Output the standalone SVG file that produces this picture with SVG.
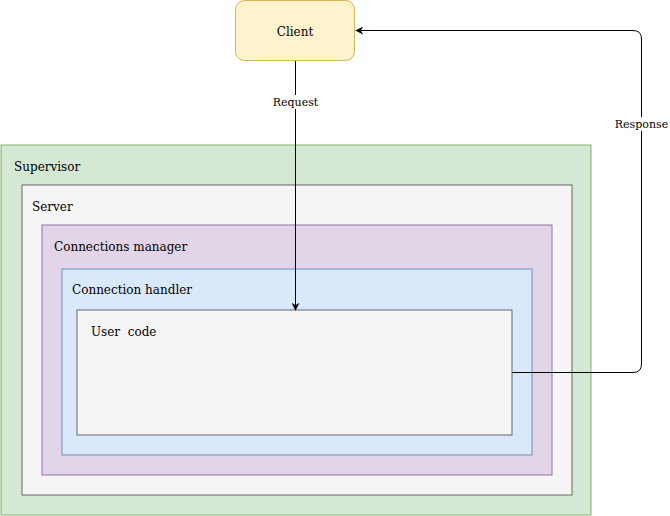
<svg xmlns="http://www.w3.org/2000/svg" width="670" height="516" viewBox="0 0 670 516">
<defs>
<marker id="arr" viewBox="0 0 10 10" refX="9" refY="5" markerWidth="8" markerHeight="8" markerUnits="userSpaceOnUse" orient="auto">
<path d="M0,0 L10,5 L0,10 L3,5 Z" fill="#000"/>
</marker>
<style>
text{font-family:"DejaVu Serif","Liberation Serif",serif;font-size:12px;fill:#000}
.lbl{font-size:11px}
.edge{fill:none;stroke:#000;stroke-width:1}
</style>
</defs>
<rect width="670" height="516" fill="#fff"/>
<g id="supervisor"><rect x="1" y="145" width="590" height="370" fill="#d5e8d4" stroke="#82b366"/><text x="14" y="171">Supervisor</text></g>
<g id="server"><rect x="22" y="185" width="550" height="310" fill="#f5f5f5" stroke="#666666"/><text x="32" y="211">Server</text></g>
<g id="connections-manager"><rect x="42" y="225" width="510" height="250" fill="#e1d5e7" stroke="#9673a6"/><text x="54" y="251">Connections manager</text></g>
<g id="connection-handler"><rect x="62" y="269" width="470" height="186" fill="#dae8fc" stroke="#6c8ebf"/><text x="72" y="294">Connection handler</text></g>
<g id="user-code"><rect x="77" y="310" width="435" height="125" fill="#f5f5f5" stroke="#666666"/><text x="91" y="336" xml:space="preserve">User  code</text></g>
<g id="client"><rect x="235.5" y="0.5" width="119" height="60" rx="9" fill="#fff2cc" stroke="#d6b656"/><text x="295" y="36" text-anchor="middle">Client</text></g>
<g id="connectors">
<path class="edge" d="M295.5,61 V310" marker-end="url(#arr)"/>
<rect x="270" y="95" width="51" height="14" fill="#fff"/>
<text class="lbl" x="295.5" y="106" text-anchor="middle">Request</text>
<path class="edge" d="M512,372.5 H633 Q641.5,372.5 641.5,364 V39 Q641.5,30.5 633,30.5 H356" marker-end="url(#arr)"/>
<rect x="614" y="117" width="55" height="14" fill="#fff"/>
<text class="lbl" x="641.5" y="128" text-anchor="middle">Response</text>
</g>
</svg>
